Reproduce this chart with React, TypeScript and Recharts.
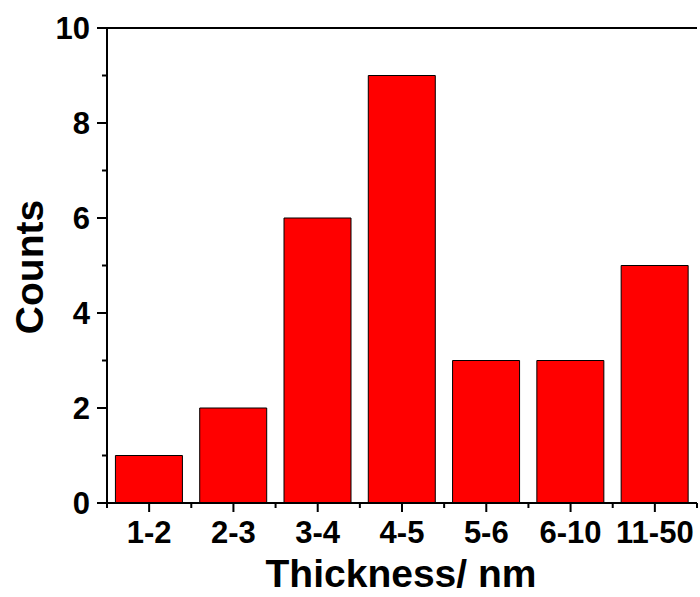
import { Bar, BarChart, ReferenceLine, XAxis, YAxis } from 'recharts';

const categories = ['1-2', '2-3', '3-4', '4-5', '5-6', '6-10', '11-50'];
const counts = [1, 2, 6, 9, 3, 3, 5];
const yTicks = [0, 1, 2, 3, 4, 5, 6, 7, 8, 9, 10];

const data = categories.map((range, i) => ({ range, count: counts[i] }));

const W = 700;
const H = 597;
const margin = { top: 28, right: 3, left: 0, bottom: 0 };
const yAxisWidth = 107;
const xAxisHeight = 94;
const font = 'Arial, "Liberation Sans", sans-serif';
const band = (W - margin.left - margin.right - yAxisWidth) / categories.length;

function XTick(props: any) {
  const { x, y, index } = props;
  const last = index === categories.length - 1;
  return (
    <g>
      <line x1={x} x2={x} y1={y} y2={y + 9} stroke="#000" strokeWidth={2} />
      <line x1={x - band / 2} x2={x - band / 2} y1={y} y2={y + 5} stroke="#000" strokeWidth={2} />
      {last && <line x1={x + band / 2} x2={x + band / 2} y1={y} y2={y + 5} stroke="#000" strokeWidth={2} />}
      <text x={x} y={y + 40} textAnchor="middle" fontFamily={font} fontWeight="bold" fontSize={31} fill="#000">
        {props.payload.value}
      </text>
    </g>
  );
}

function YTick(props: any) {
  const { x, y, payload } = props;
  const major = payload.value % 2 === 0;
  return (
    <g>
      <line x1={x} x2={x - (major ? 10 : 5)} y1={y} y2={y} stroke="#000" strokeWidth={2} />
      {major && (
        <text x={x - 17} y={y} dy="0.36em" textAnchor="end" fontFamily={font} fontWeight="bold" fontSize={31} fill="#000">
          {payload.value}
        </text>
      )}
    </g>
  );
}

// axis titles placed by hand, recharts' label positions clip them
function XTitle() {
  return (
    <text x={401} y={587} textAnchor="middle" fontFamily={font} fontWeight="bold" fontSize={39} fill="#000">
      Thickness/ nm
    </text>
  );
}

function YTitle() {
  return (
    <text
      x={43}
      y={267}
      transform="rotate(-90 43 267)"
      textAnchor="middle"
      fontFamily={font}
      fontWeight="bold"
      fontSize={39}
      fill="#000"
    >
      Counts
    </text>
  );
}

export default function App() {
  return (
    <div style={{ position: 'absolute', left: 0, top: 0, width: W, height: H, background: '#fff' }}>
      <BarChart width={W} height={H} data={data} margin={margin} barCategoryGap="10%">
        <XAxis
          dataKey="range"
          height={xAxisHeight}
          axisLine={{ stroke: '#000', strokeWidth: 2 }}
          tickLine={false}
          tickSize={0}
          tickMargin={0}
          interval={0}
          tick={<XTick />}
          label={<XTitle />}
        />
        <YAxis
          width={yAxisWidth}
          domain={[0, 10]}
          ticks={yTicks}
          interval={0}
          axisLine={{ stroke: '#000', strokeWidth: 2 }}
          tickLine={false}
          tickSize={0}
          tickMargin={0}
          tick={<YTick />}
          label={<YTitle />}
        />
        <YAxis
          yAxisId="right"
          orientation="right"
          width={0}
          domain={[0, 10]}
          tick={false}
          tickLine={false}
          axisLine={{ stroke: '#000', strokeWidth: 2 }}
        />
        <ReferenceLine y={10} stroke="#000" strokeWidth={2} />
        <Bar dataKey="count" fill="#FF0000" stroke="#000" strokeWidth={1} isAnimationActive={false} />
      </BarChart>
    </div>
  );
}
